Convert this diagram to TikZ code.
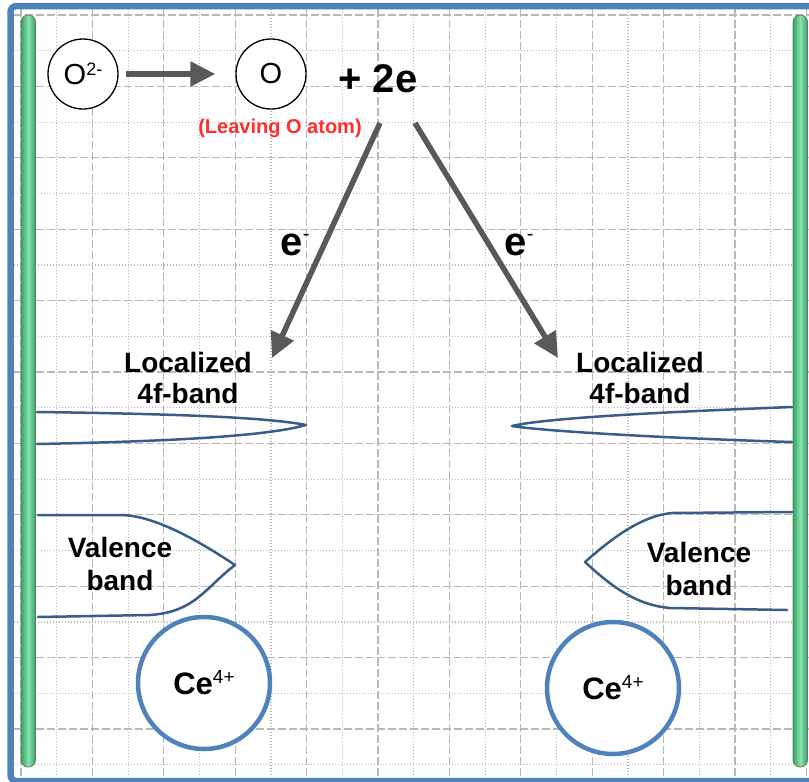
\documentclass[tikz,border=0pt]{standalone}
\usepackage{fontspec}
\setmainfont{Liberation Sans}
\usetikzlibrary{arrows.meta}

\definecolor{framecol}{RGB}{79,129,189}
\definecolor{bandcol}{RGB}{56,93,138}
\definecolor{gridcol}{RGB}{184,184,184}
\definecolor{arrowcol}{RGB}{89,89,89}
\definecolor{bargreen}{RGB}{46,166,98}
\definecolor{barlight}{RGB}{140,226,176}
\definecolor{leavecol}{RGB}{255,45,45}

% raised small text for charges: #1 raise, #2 size, #3 text
\newcommand{\raisedtext}[3]{\raisebox{#1}{\fontsize{#2}{#2}\selectfont\mdseries #3}}

\tikzset{
  majorline/.style={gridcol, line width=1.2pt, dash pattern=on 8pt off 3pt},
  minorline/.style={gridcol, line width=1.2pt, dash pattern=on 1.4pt off 1.6pt},
  electrode/.style={draw=black!55, line width=0.8pt, rounded corners=7pt,
    left color=bargreen, right color=bargreen, middle color=barlight},
  ion/.style={circle, draw=black, line width=1.3pt, fill=white,
    minimum size=70pt, inner sep=0pt, font=\fontsize{29}{29}\selectfont},
  cation/.style={circle, draw=framecol, line width=4.5pt, fill=white,
    minimum size=132pt, inner sep=0pt, font=\bfseries\fontsize{31}{31}\selectfont},
  bigarrow/.style={draw=arrowcol, line width=5.5pt,
    -{Triangle[length=25pt, width=24pt]}},
  bandline/.style={draw=bandcol, line width=2.5pt, line join=round, line cap=round},
  bandlabel/.style={align=center, inner sep=0pt, font=\bfseries\fontsize{28}{31}\selectfont},
  vallabel/.style={align=center, inner sep=0pt, font=\bfseries\fontsize{28}{33}\selectfont},
  elabel/.style={inner sep=0pt, anchor=base, font=\bfseries\fontsize{40}{40}\selectfont}
}

\begin{document}
\begin{tikzpicture}[x=1pt, y=-1pt]
\useasboundingbox (0,0) rectangle (809,782);
\clip (0,0) rectangle (809,782);

% background grid: dashed major lines, dotted minor lines
\foreach \k in {0,...,21}{
  \pgfmathsetmacro\yy{15+35.7*\k}
  \ifodd\k\relax
    \draw[minorline] (14,\yy) -- (809,\yy);
  \else
    \draw[majorline] (14,\yy) -- (809,\yy);
  \fi
}
\foreach \k in {0,...,22}{
  \pgfmathsetmacro\xx{21+35.7*\k}
  \ifodd\k\relax
    \draw[minorline] (\xx,9) -- (\xx,777);
  \else
    \draw[majorline] (\xx,9) -- (\xx,777);
  \fi
}

% outer frame
\draw[framecol, line width=6.5pt, rounded corners=6pt] (10.5,6) rectangle (830,781);

% electrodes
\draw[electrode] (21,15) rectangle (35.5,767);
\draw[electrode] (793,15) rectangle (807.5,767);

% oxygen release
\node[ion] (dianion) at (83,74) {O\raisedtext{9pt}{18}{2-}};
\node[ion] (oxatom) at (271,74) {O};
\draw[bigarrow, shorten <=7pt, shorten >=20pt] (dianion) -- (oxatom);
\node[elabel] (electrons) at (378,92) {+ 2e};
\node[anchor=base, inner sep=0pt, text=leavecol, font=\bfseries\fontsize{20}{20}\selectfont]
  (leaving) at (280,133) {(Leaving O atom)};

% electron transfer to the 4f bands
\coordinate (srcL) at (380,123);
\coordinate (srcR) at (415,123);
\coordinate (tipL) at (272,358);
\coordinate (tipR) at (558,358);
\draw[bigarrow] (srcL) -- (tipL);
\draw[bigarrow] (srcR) -- (tipR);
\node[elabel] (eL) at (295,255) {e\raisedtext{15pt}{20}{-}};
\node[elabel] (eR) at (519,255) {e\raisedtext{15pt}{20}{-}};

% band labels
\node[bandlabel] (locL) at (188,377.5) {Localized\\4f-band};
\node[bandlabel] (locR) at (640,377.5) {Localized\\4f-band};
\node[vallabel] (valL) at (120,563.5) {Valence\\band};
\node[vallabel] (valR) at (699,568.5) {Valence\\band};

% localized 4f bands
\draw[bandline] (37,412) .. controls (190,414) and (270,418) .. (306,425)
                         .. controls (270,435) and (190,441) .. (37,444);
\draw[bandline] (792,407) .. controls (690,411) and (550,417) .. (512,426)
                          .. controls (550,432) and (690,439) .. (792,442);

% valence bands
\draw[bandline] (38,515) -- (120,515) .. controls (150,515) and (190,535) .. (235,565)
                .. controls (205,588) and (195,612) .. (150,615) -- (38,617);
\draw[bandline] (792,512) -- (672,513) .. controls (640,516) and (610,540) .. (585,562)
                .. controls (610,585) and (635,605) .. (670,608) -- (787,610);

% cerium ions
\node[cation] (ceL) at (204,683) {Ce\raisedtext{11pt}{19}{4+}};
\node[cation] (ceR) at (613,688) {Ce\raisedtext{11pt}{19}{4+}};
\end{tikzpicture}
\end{document}
